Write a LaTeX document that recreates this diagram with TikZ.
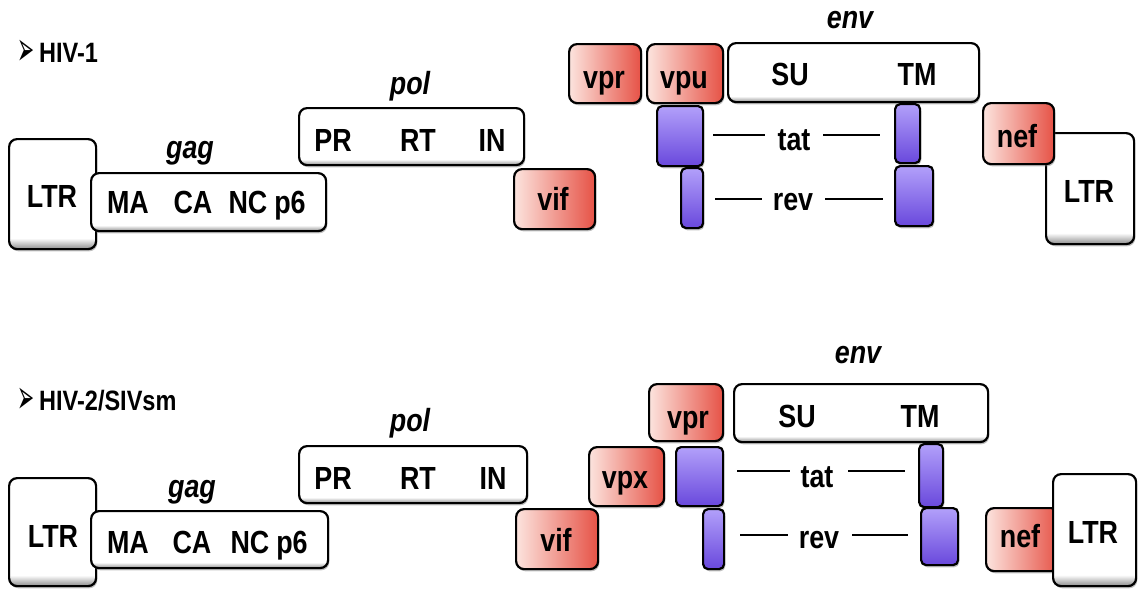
\documentclass[tikz,border=0pt]{standalone}
\usepackage{fontspec}
\setmainfont[FakeStretch=0.84]{Liberation Sans}
\newfontfamily\dejavu{DejaVu Sans}
\usetikzlibrary{shadows}
\definecolor{redR}{RGB}{230,82,70}
\definecolor{redL}{RGB}{252,228,222}
\definecolor{purD}{RGB}{105,72,220}
\definecolor{purL}{RGB}{178,160,250}
\pgfdeclareverticalshading{greyshade}{100bp}{color(0bp)=(black!45); color(25bp)=(black!45); color(30bp)=(white); color(100bp)=(white)}
\tikzset{
  box/.style={draw=black, line width=2.2pt, rounded corners=8pt, inner sep=0pt, anchor=north west,
    drop shadow={shadow xshift=1.2pt, shadow yshift=-2.2pt, opacity=0.5}},
  gbox/.style={box, shading=greyshade},
  rbox/.style={box, left color=redL, right color=redR},
  pbox/.style={box, rounded corners=5pt, top color=purL, bottom color=purD},
  lbl/.style={font=\fontsize{32}{32}\selectfont\bfseries, inner sep=0pt, anchor=base},
  ilbl/.style={lbl, font=\fontsize{32}{32}\selectfont\bfseries\itshape},
  ttl/.style={font=\fontsize{28}{28}\selectfont\bfseries, inner sep=0pt, anchor=base west},
  ln/.style={line width=2.3pt, black}
}
\newcommand\arrowmark{\makebox[24pt][l]{\hspace{2pt}\raisebox{-3pt}{\scalebox{0.6}[1.4]{\dejavu\fontsize{34}{34}\selectfont ➢}}}}
\begin{document}
\begin{tikzpicture}[x=1pt,y=-1pt]
\useasboundingbox (0,0) rectangle (1139,589);
% ---------------- HIV-1 ----------------
\node[ttl] (t1) at (15,62) {\arrowmark HIV-1};
\node[gbox, minimum width=87pt, minimum height=110pt] (ltrA) at (8,138) {};
\node[gbox, minimum width=225pt, minimum height=57pt] (polA) at (298,107) {};
\node[gbox, minimum width=235pt, minimum height=58pt] (gagA) at (90,172) {};
\node[rbox, minimum width=81pt, minimum height=60pt] (vifA) at (513,168) {};
\node[rbox, minimum width=72pt, minimum height=59pt] (vprA) at (568,43) {};
\node[rbox, minimum width=76pt, minimum height=59pt] (vpuA) at (646,43) {};
\node[gbox, minimum width=251pt, minimum height=59pt] (envA) at (727,42) {};
\node[pbox, minimum width=46pt, minimum height=60pt] (tatoneA) at (656,105) {};
\node[pbox, minimum width=22pt, minimum height=60pt] (revoneA) at (680,167) {};
\node[pbox, minimum width=25pt, minimum height=59pt] (tattwoA) at (894,103) {};
\node[pbox, minimum width=38pt, minimum height=60pt] (revtwoA) at (894,165) {};
\node[gbox, minimum width=88pt, minimum height=111pt] (ltrRA) at (1045,132) {};
\node[rbox, minimum width=71pt, minimum height=61pt] (nefA) at (982,102) {};

\node[lbl] (ltrAl) at (52,207) {LTR};
\node[ilbl] (gagAl) at (190,158) {gag};
\node[lbl] (maA) at (128,213) {MA};
\node[lbl] (caA) at (193,213) {CA};
\node[lbl] (ncA) at (248,213) {NC};
\node[lbl] (psA) at (290,213) {p6};
\node[ilbl] (polAl) at (410,94) {pol};
\node[lbl] (prA) at (333,151) {PR};
\node[lbl] (rtA) at (418,151) {RT};
\node[lbl] (inA) at (492,151) {IN};
\node[lbl] (vifAl) at (553,210) {vif};
\node[lbl] (vprAl) at (604,88) {vpr};
\node[lbl] (vpuAl) at (684,88) {vpu};
\node[ilbl] (envAl) at (850,28) {env};
\node[lbl] (suA) at (790,85) {SU};
\node[lbl] (tmA) at (917,85) {TM};
\node[lbl] (tatA) at (794,150) {tat};
\node[lbl] (revA) at (793,210) {rev};
\node[lbl] (nefAl) at (1017,147) {nef};
\node[lbl] (ltrRAl) at (1089,202) {LTR};
\draw[ln] ([xshift=-81pt,yshift=15pt]tatA.base) -- ++(52,0);
\draw[ln] ([xshift=29pt,yshift=15pt]tatA.base) -- ++(57,0);
\draw[ln] ([xshift=-78pt,yshift=11pt]revA.base) -- ++(47,0);
\draw[ln] ([xshift=32pt,yshift=11pt]revA.base) -- ++(58,0);

% ---------------- HIV-2 / SIVsm ----------------
\node[ttl] (t2) at (15,410) {\arrowmark HIV-2/SIVsm};
\node[gbox, minimum width=87pt, minimum height=108pt] (ltrB) at (8,477) {};
\node[gbox, minimum width=228pt, minimum height=57pt] (polB) at (298,445) {};
\node[gbox, minimum width=237pt, minimum height=57pt] (gagB) at (90,510) {};
\node[rbox, minimum width=82pt, minimum height=60pt] (vifB) at (515,508) {};
\node[rbox, minimum width=75pt, minimum height=59pt] (vpxB) at (588,446) {};
\node[rbox, minimum width=74pt, minimum height=57pt] (vprB) at (648,383) {};
\node[gbox, minimum width=254pt, minimum height=58pt] (envB) at (733,383) {};
\node[pbox, minimum width=47pt, minimum height=59pt] (tatoneB) at (675,446) {};
\node[pbox, minimum width=21pt, minimum height=60pt] (revoneB) at (702,508) {};
\node[pbox, minimum width=24pt, minimum height=63pt] (tattwoB) at (918,443) {};
\node[pbox, minimum width=37pt, minimum height=57pt] (revtwoB) at (920,507) {};
\node[rbox, minimum width=73pt, minimum height=63pt] (nefB) at (985,507) {};
\node[gbox, minimum width=83pt, minimum height=112pt] (ltrRB) at (1052,473) {};

\node[lbl] (ltrBl) at (53,547) {LTR};
\node[ilbl] (gagBl) at (192,497) {gag};
\node[lbl] (maB) at (128,553) {MA};
\node[lbl] (caB) at (192,553) {CA};
\node[lbl] (ncB) at (250,553) {NC};
\node[lbl] (psB) at (292,553) {p6};
\node[ilbl] (polBl) at (410,431) {pol};
\node[lbl] (prB) at (333,489) {PR};
\node[lbl] (rtB) at (418,489) {RT};
\node[lbl] (inB) at (493,489) {IN};
\node[lbl] (vifBl) at (556,551) {vif};
\node[lbl] (vpxBl) at (625,488) {vpx};
\node[lbl] (vprBl) at (688,428) {vpr};
\node[ilbl] (envBl) at (858,363) {env};
\node[lbl] (suB) at (797,427) {SU};
\node[lbl] (tmB) at (920,427) {TM};
\node[lbl] (tatB) at (817,487) {tat};
\node[lbl] (revB) at (819,548) {rev};
\node[lbl] (nefBl) at (1020,547) {nef};
\node[lbl] (ltrRBl) at (1093,543) {LTR};
\draw[ln] ([xshift=-80pt,yshift=16pt]tatB.base) -- ++(53,0);
\draw[ln] ([xshift=31pt,yshift=16pt]tatB.base) -- ++(57,0);
\draw[ln] ([xshift=-79pt,yshift=13pt]revB.base) -- ++(48,0);
\draw[ln] ([xshift=33pt,yshift=13pt]revB.base) -- ++(56,0);
\end{tikzpicture}
\end{document}
